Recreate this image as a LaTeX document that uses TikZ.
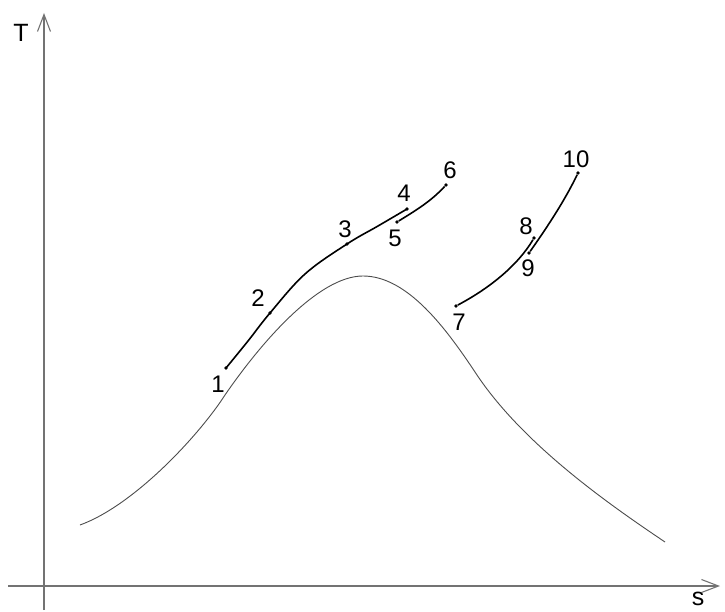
\documentclass[tikz,border=0pt]{standalone}
\usepackage{fontspec}
\setmainfont{Liberation Sans}
\usetikzlibrary{arrows.meta}
\begin{document}
\begin{tikzpicture}[x=1pt,y=-1pt,
  axis/.style={draw=black!55,line width=1.3pt,-{Straight Barb[length=17pt,width=13pt,line width=1.1pt]}},
  dome/.style={draw=black!70,line width=0.9pt},
  proc/.style={draw=black,line width=1.6pt},
  pt/.style={circle,fill=black,inner sep=0pt,minimum size=3.6pt},
  lbl/.style={font=\fontsize{24}{24}\selectfont,inner sep=0pt},
  axlbl/.style={font=\fontsize{25}{25}\selectfont,inner sep=0pt}]
\useasboundingbox (0,0) rectangle (725,612);
% axes
\coordinate (ybot) at (44,610);
\coordinate (ytop) at (44,13);
\coordinate (xl) at (8,586);
\coordinate (xr) at (720,586);
\draw[axis] (ybot) -- (ytop);
\draw[axis] (xl) -- (xr);
\node[axlbl] (T) at (21,33) {T};
\node[axlbl] (s) at (698,599) {s};
% saturation dome
\draw[dome] (80,525) .. controls (135,505) and (200,434) .. (225,395)
  .. controls (260,344) and (318,276) .. (363,276)
  .. controls (408,276) and (447,330) .. (475,372)
  .. controls (522,444) and (610,505) .. (665,542);
% state points
\node[pt] (p1) at (226,368) {};
\node[pt] (p2) at (270,313) {};
\node[pt] (p3) at (347,244) {};
\node[pt] (p4) at (407,209) {};
\node[pt] (p5) at (397,222) {};
\node[pt] (p6) at (446,185) {};
\node[pt] (p7) at (456,306) {};
\node[pt] (p8) at (534,238) {};
\node[pt] (p9) at (529,253) {};
\node[pt] (p10) at (578,173) {};
% labels
\node[lbl] (l1) at (218,384) {1};
\node[lbl] (l2) at (258,298) {2};
\node[lbl] (l3) at (345,229) {3};
\node[lbl] (l4) at (404,193) {4};
\node[lbl] (l5) at (395,238) {5};
\node[lbl] (l6) at (450,170) {6};
\node[lbl] (l7) at (459,322) {7};
\node[lbl] (l8) at (526,226) {8};
\node[lbl] (l9) at (528,268) {9};
\node[lbl] (l10) at (576,159) {10};
% processes
\draw[proc] plot[smooth,tension=0.6] coordinates {(p1) (248,341) (p2) (305,274) (p3) (378,226) (p4)};
\draw[proc] (p5) .. controls (420,208) and (432,200) .. (p6);
\draw[proc] (p7) .. controls (490,288) and (518,265) .. (p8);
\draw[proc] (p9) .. controls (548,226) and (565,200) .. (p10);
\end{tikzpicture}
\end{document}
